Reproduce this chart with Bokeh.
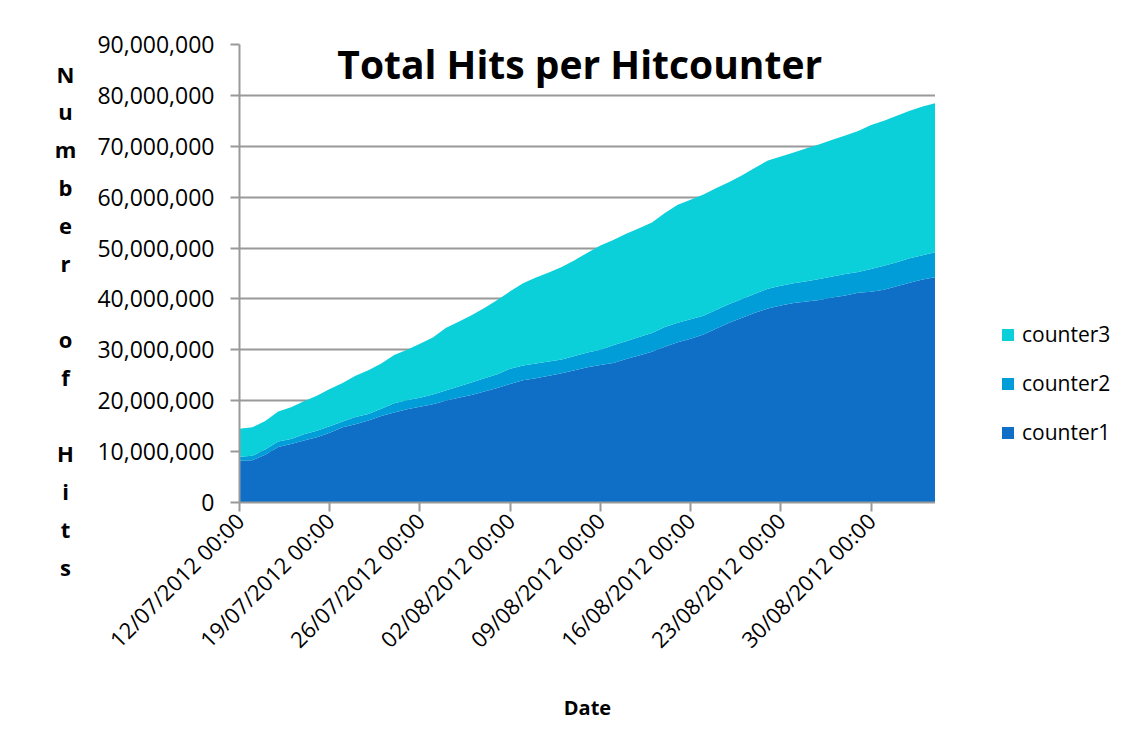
import math
import pandas as pd
from bokeh.plotting import figure
from bokeh.layouts import row
from bokeh.models import (ColumnDataSource, Range1d, FixedTicker, NumeralTickFormatter,
                          Legend, LegendItem, Label)
from bokeh.embed import file_html
from bokeh.resources import INLINE

# Values in millions of hits, one reading per day from 12/07/2012
counter1 = [8.25, 8.3, 9.4, 10.9, 11.5, 12.2, 12.8, 13.7, 14.8, 15.4, 16.1, 17.0, 17.7, 18.3,
            18.8, 19.3, 20.0, 20.6, 21.1, 21.8, 22.5, 23.3, 24.0, 24.4, 24.9, 25.4, 26.0, 26.6,
            27.0, 27.4, 28.2, 28.9, 29.6, 30.6, 31.5, 32.2, 33.0, 34.2, 35.3, 36.3, 37.3, 38.1,
            38.7, 39.2, 39.5, 39.8, 40.3, 40.7, 41.2, 41.4, 41.8, 42.5, 43.2, 43.8, 44.3]
counter2 = [0.75, 0.9, 1.0, 1.1, 1.0, 1.2, 1.3, 1.3, 1.1, 1.4, 1.3, 1.4, 1.8, 1.8,
            1.8, 1.9, 2.0, 2.2, 2.5, 2.6, 2.7, 3.0, 2.9, 2.9, 2.8, 2.7, 2.8, 2.9,
            3.0, 3.5, 3.5, 3.6, 3.7, 3.9, 3.8, 3.8, 3.7, 3.7, 3.7, 3.7, 3.7, 3.9,
            3.9, 3.9, 4.0, 4.1, 4.1, 4.2, 4.1, 4.5, 4.7, 4.7, 4.8, 4.8, 4.9]
counter3 = [5.5, 5.6, 5.6, 5.9, 6.2, 6.5, 6.9, 7.3, 7.6, 8.1, 8.6, 8.9, 9.5, 9.9,
            10.6, 11.2, 12.3, 12.7, 13.2, 13.8, 14.6, 15.2, 16.2, 16.9, 17.5, 18.2, 18.8, 19.6,
            20.5, 20.7, 21.1, 21.4, 21.7, 22.4, 23.2, 23.5, 23.8, 23.9, 24.0, 24.3, 24.8, 25.2,
            25.4, 25.7, 26.1, 26.5, 26.9, 27.2, 27.7, 28.3, 28.5, 28.8, 29.0, 29.2, 29.3]
series_names = ["counter1", "counter2", "counter3"]
series_colors = ["#0F6FC6", "#009DD9", "#0BD0D9"]
tick_dates = ["2012-07-12", "2012-07-19", "2012-07-26", "2012-08-02",
              "2012-08-09", "2012-08-16", "2012-08-23", "2012-08-30"]
tick_labels = ["12/07/2012 00:00", "19/07/2012 00:00", "26/07/2012 00:00", "02/08/2012 00:00",
               "09/08/2012 00:00", "16/08/2012 00:00", "23/08/2012 00:00", "30/08/2012 00:00"]

dates = pd.date_range("2012-07-12", periods=len(counter1), freq="D")
source = ColumnDataSource(dict(
    date=dates,
    counter1=[v * 1e6 for v in counter1],
    counter2=[v * 1e6 for v in counter2],
    counter3=[v * 1e6 for v in counter3],
))

FONT = "Open Sans"
H = 748
LW, RW = 85, 209          # side strips: y title (left) and legend (right)
MW = 1144 - LW - RW


def strip_fig(w, left=0, top=0, right=0, bottom=0, **kw):
    f = figure(width=w, height=H, output_backend="svg", toolbar_location=None, title=None,
               x_axis_location=None, y_axis_location=None, frame_align=False,
               min_border_left=left, min_border_right=right,
               min_border_top=top, min_border_bottom=bottom, **kw)
    f.grid.visible = False
    f.outline_line_color = None
    f.background_fill_color = "white"
    f.border_fill_color = "white"
    return f


# ---- main chart ----
p = figure(width=MW, height=H, output_backend="svg", toolbar_location=None,
           x_axis_type="datetime", frame_align=False,
           x_range=Range1d(dates[0], dates[-1]), y_range=Range1d(0, 90e6),
           min_border_left=239 - LW, min_border_right=0, min_border_top=44,
           min_border_bottom=246)
p.outline_line_color = None
p.background_fill_color = "white"
p.border_fill_color = "white"

rs = p.varea_stack(series_names, x="date", source=source, color=series_colors)

ms = [pd.Timestamp(d).value // 10**6 for d in tick_dates]
p.xaxis.ticker = FixedTicker(ticks=ms)
p.xaxis.major_label_overrides = {m: lab for m, lab in zip(ms, tick_labels)}
p.xaxis.major_label_orientation = math.pi / 4
p.yaxis.ticker = FixedTicker(ticks=[i * 10e6 for i in range(10)])
p.yaxis.formatter = NumeralTickFormatter(format="0,0")
for ax in (p.xaxis[0], p.yaxis[0]):
    ax.axis_line_color = "#999999"
    ax.axis_line_width = 2
    ax.major_tick_line_color = "#999999"
    ax.major_tick_line_width = 2
    ax.major_tick_out = 9
    ax.major_tick_in = 0
    ax.minor_tick_line_color = None
    ax.major_label_text_font = FONT
    ax.major_label_text_color = "black"
p.yaxis.major_label_text_font_size = "23px"
p.yaxis.major_label_standoff = 16
p.xaxis.major_label_text_font_size = "22px"
p.xaxis.major_label_standoff = 5
p.xaxis.axis_label = "Date"
p.xaxis.axis_label_text_font = FONT
p.xaxis.axis_label_text_font_style = "bold"
p.xaxis.axis_label_text_font_size = "20px"
p.xaxis.axis_label_text_color = "black"
p.xaxis.axis_label_standoff = 27
p.xgrid.grid_line_color = None
p.ygrid.grid_line_color = "#999999"
p.ygrid.grid_line_width = 2

day = pd.Timedelta(days=1)
p.add_layout(Label(x=dates[0] + 26.4 * day, y=86.2e6, text="Total Hits per Hitcounter",
                   text_font=FONT, text_font_style="bold", text_font_size="39px",
                   text_align="center", text_baseline="middle", text_color="black"))

# ---- left strip: stacked y-axis title (frame = whole strip) ----
pl = strip_fig(LW, x_range=Range1d(0, LW), y_range=Range1d(0, H))
pl.add_layout(Label(x=65, y=H - 58, text="N\nu\nm\nb\ne\nr\n \no\nf\n \nH\ni\nt\ns",
                    text_font=FONT, text_font_style="bold", text_font_size="22px",
                    text_line_height=1.266, text_align="center", text_baseline="top",
                    text_color="black"))

# ---- right strip: legend (frame starts where the legend's top-left sits) ----
pr = strip_fig(RW, left=65, top=320, right=0, bottom=280,
               x_range=Range1d(0, 1), y_range=Range1d(0, 1))
swatches = pr.varea_stack(series_names, x="date", source=source, color=series_colors)
legend = Legend(items=[LegendItem(label=n, renderers=[r]) for n, r in
                       reversed(list(zip(series_names, swatches)))],
                location="top_left", border_line_color=None, background_fill_alpha=0,
                padding=0, margin=0, spacing=21, glyph_width=15, glyph_height=15,
                label_height=25, label_text_font=FONT, label_text_font_size="21px",
                label_text_color="black", label_standoff=7)
pr.add_layout(legend, "center")

layout = row(pl, p, pr, spacing=0)
open("out.html", "w").write(file_html(layout, INLINE))
